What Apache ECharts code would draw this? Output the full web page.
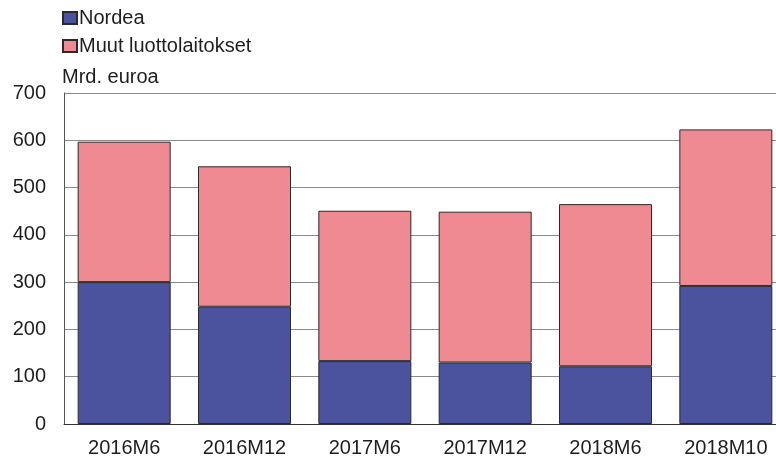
<!DOCTYPE html>
<html>
<head>
<meta charset="utf-8">
<script src="https://cdn.jsdelivr.net/npm/echarts@6/dist/echarts.min.js"></script>
<style>
  html, body { margin: 0; padding: 0; background: #fff; overflow: hidden; }
  /* the plot runs past the right edge of the picture, as in the original */
  #main { width: 786px; height: 462px; }
</style>
</head>
<body>
<div id="main"></div>
<script>
// Kaudet
var categories = ['2016M6', '2016M12', '2017M6', '2017M12', '2018M6', '2018M10']
// Mrd. euroa
var nordea = [300, 248, 133, 130, 122, 292]
var muut = [297, 297, 318, 319, 343, 331]

var font = 'Liberation Sans, Arial, sans-serif'

var myChart = echarts.init(document.getElementById('main'))

var option = {
  animation: false,
  textStyle: { fontFamily: font },
  legend: {
    orient: 'vertical',
    left: 57,
    top: 3,
    itemWidth: 14,
    itemHeight: 12,
    itemGap: 8,
    icon: 'rect',
    textStyle: { fontSize: 20, color: '#1e1e1e', fontFamily: font, padding: [0, 0, 0, -3] },
    data: ['Nordea', 'Muut luottolaitokset'],
  },
  graphic: [
    {
      type: 'text',
      left: 62,
      top: 67,
      style: { text: 'Mrd. euroa', font: '20px ' + font, fill: '#1e1e1e' },
    },
  ],
  grid: {
    left: 64,
    top: 93,
    right: 0,
    height: 331,
  },
  xAxis: {
    type: 'category',
    data: categories,
    axisLine: { lineStyle: { color: '#333', width: 1 } },
    axisTick: { show: false },
    axisLabel: { fontSize: 20, color: '#1e1e1e', margin: 14 },
  },
  yAxis: {
    type: 'value',
    min: 0,
    max: 700,
    interval: 100,
    axisLine: { show: true, lineStyle: { color: '#555', width: 1 } },
    axisTick: { show: false },
    axisLabel: { fontSize: 20, color: '#1e1e1e', margin: 18 },
    splitLine: { lineStyle: { color: '#8a8a8a', width: 1.2 } },
  },
  series: [
    {
      name: 'Nordea',
      type: 'bar',
      stack: 'total',
      barWidth: 93,
      data: nordea,
      itemStyle: { color: '#4b539e', borderColor: '#2a2a2a', borderWidth: 1 },
    },
    {
      name: 'Muut luottolaitokset',
      type: 'bar',
      stack: 'total',
      barWidth: 93,
      data: muut,
      itemStyle: { color: '#ef8a92', borderColor: '#2a2a2a', borderWidth: 1 },
    },
  ],
}

myChart.setOption(option)
</script>
</body>
</html>
